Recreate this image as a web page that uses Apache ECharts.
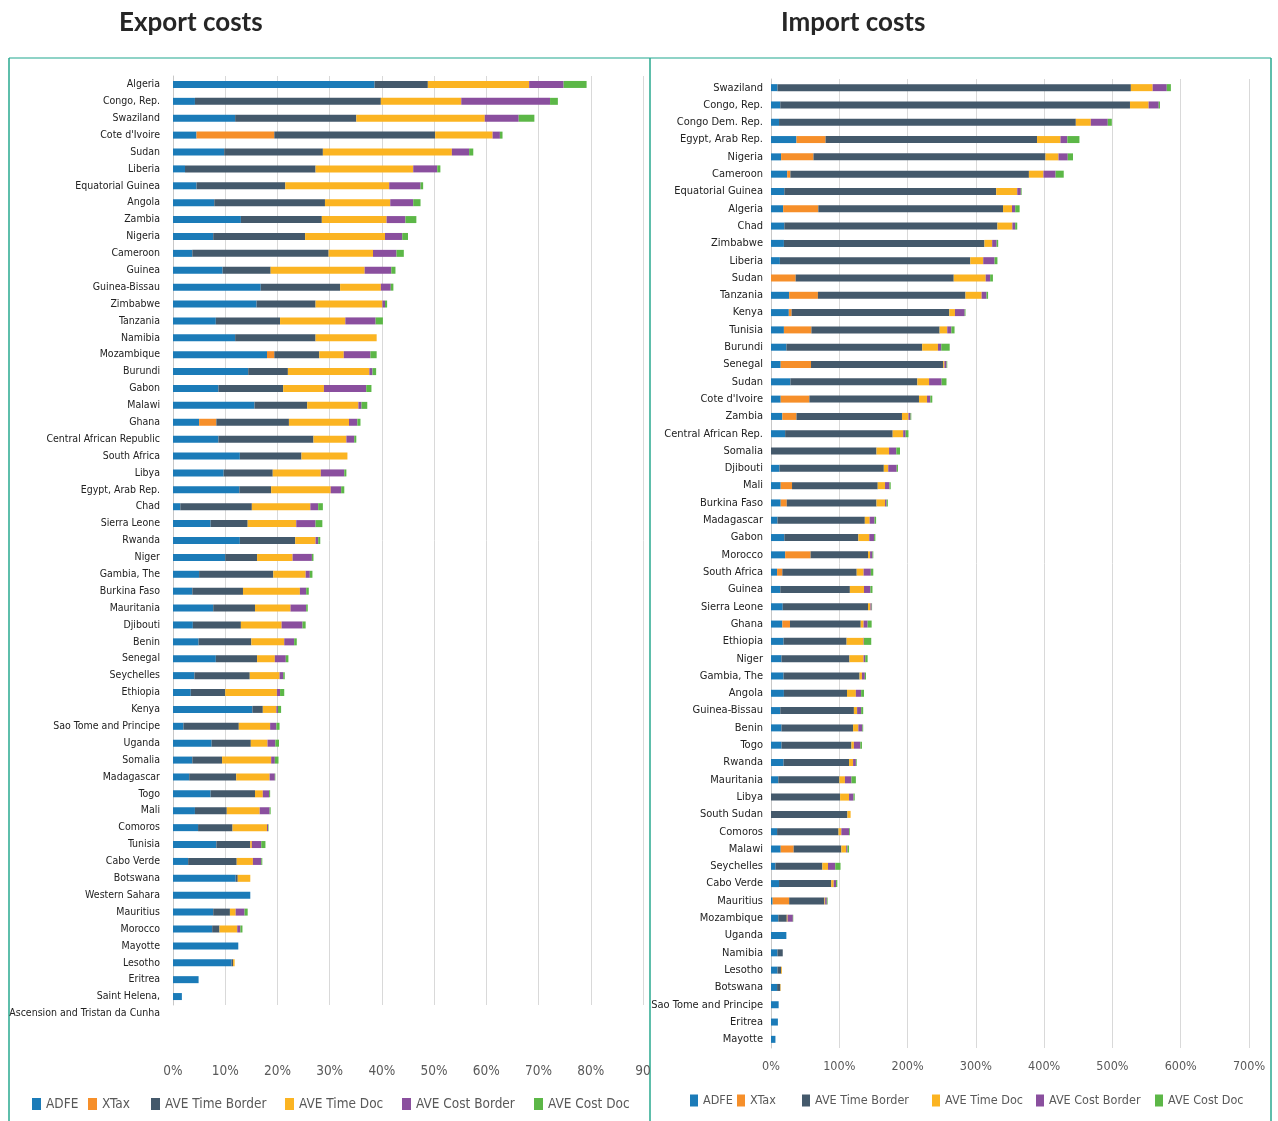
<!DOCTYPE html>
<html>
<head>
<meta charset="utf-8">
<script src="https://cdn.jsdelivr.net/npm/echarts@6/dist/echarts.min.js"></script>
<style>
html,body{margin:0;padding:0;background:#fff;}
#chart{width:1278px;height:1121px;}
</style>
</head>
<body>
<div id="chart"></div>
<script>
// ---------- DATA ----------
const seriesNames = ['ADFE', 'XTax', 'AVE Time Border', 'AVE Time Doc', 'AVE Cost Border', 'AVE Cost Doc'];

const exportCountries = ['Algeria','Congo, Rep.','Swaziland',"Cote d'Ivoire",'Sudan','Liberia','Equatorial Guinea','Angola','Zambia','Nigeria','Cameroon',
  'Guinea','Guinea-Bissau','Zimbabwe','Tanzania','Namibia','Mozambique','Burundi','Gabon','Malawi','Ghana','Central African Republic',
  'South Africa','Libya','Egypt, Arab Rep.','Chad','Sierra Leone','Rwanda','Niger','Gambia, The','Burkina Faso','Mauritania','Djibouti','Benin',
  'Senegal','Seychelles','Ethiopia','Kenya','Sao Tome and Principe','Uganda','Somalia','Madagascar','Togo','Mali','Comoros',
  'Tunisia','Cabo Verde','Botswana','Western Sahara','Mauritius','Morocco','Mayotte','Lesotho','Eritrea','Saint Helena,\nAscension and Tristan da Cunha'];

const exportADFE = [38.6,4.2,11.9,4.5,9.8,2.3,4.5,7.9,13.0,7.7,3.7,
  9.5,16.8,16.0,8.2,11.9,18.0,14.4,8.7,15.6,5.0,8.7,
  12.8,9.7,12.7,1.4,7.2,12.8,10.0,5.0,3.7,7.7,3.8,4.9,
  8.2,4.1,3.4,15.2,2.0,7.4,3.7,3.1,7.2,4.2,4.8,
  8.3,2.9,12.0,14.8,7.7,7.5,12.5,11.2,4.9,1.7];
const exportXTax = [0,0,0,14.9,0,0,0,0,0,0,0,
  0,0,0,0,0,1.4,0,0,0,3.3,0,
  0,0,0,0,0,0,0,0,0,0,0,0,
  0,0,0,0,0,0,0,0,0,0,0,
  0,0,0,0,0,0,0,0,0,0];
const exportTimeBorder = [10.2,35.6,23.2,30.8,18.9,25.0,17.0,21.2,15.5,17.6,26.1,
  9.2,15.2,11.3,12.3,15.4,8.6,7.6,12.4,10.1,13.9,18.2,
  11.8,9.4,6.1,13.7,7.1,10.6,6.1,14.2,9.7,8.0,9.2,10.1,
  7.9,10.6,6.6,2.0,10.6,7.5,5.7,9.0,8.5,6.1,6.6,
  6.5,9.3,0.4,0,3.2,1.4,0,0.3,0,0];
const exportTimeDoc = [19.4,15.4,24.6,11.0,24.7,18.7,19.9,12.5,12.4,15.3,8.5,
  18.0,7.8,12.8,12.5,11.7,4.7,15.6,7.8,9.8,11.5,6.3,
  8.8,9.2,11.4,11.2,9.3,3.9,6.8,6.2,10.9,6.8,7.8,6.3,
  3.4,5.7,9.9,2.6,6.0,3.2,9.4,6.4,1.5,6.3,6.6,
  0.3,3.1,2.4,0,1.1,3.4,0,0.3,0,0];
const exportCostBorder = [6.6,17.0,6.5,1.4,3.3,4.6,6.0,4.4,3.6,3.3,4.5,
  5.1,1.9,0.5,5.8,0,5.1,0.6,8.1,0.6,1.6,1.5,
  0,4.5,2.0,1.5,3.7,0.5,3.7,0.8,1.2,3.0,4.0,1.9,
  2.1,0.7,0.6,0.3,1.2,1.5,0.7,1.0,1.2,1.9,0.2,
  1.8,1.6,0,0,1.7,0.6,0,0,0,0];
const exportCostDoc = [4.4,1.5,3.0,0.5,0.8,0.6,0.5,1.4,2.1,1.1,1.4,
  0.8,0.5,0.4,1.4,0,1.2,0.7,1.0,1.1,0.6,0.4,
  0,0.4,0.6,0.9,1.3,0.4,0.3,0.5,0.5,0.3,0.6,0.5,
  0.5,0.3,0.8,0.6,0.6,0.7,0.7,0.1,0.2,0.2,0.1,
  0.8,0.2,0,0,0.6,0.4,0,0,0,0];

const importCountries = ['Swaziland','Congo, Rep.','Congo Dem. Rep.','Egypt, Arab Rep.','Nigeria','Cameroon','Equatorial Guinea','Algeria','Chad','Zimbabwe',
  'Liberia','Sudan','Tanzania','Kenya','Tunisia','Burundi','Senegal','Sudan',"Cote d'Ivoire",'Zambia','Central African Rep.',
  'Somalia','Djibouti','Mali','Burkina Faso','Madagascar','Gabon','Morocco','South Africa','Guinea','Sierra Leone','Ghana','Ethiopia',
  'Niger','Gambia, The','Angola','Guinea-Bissau','Benin','Togo','Rwanda','Mauritania','Libya','South Sudan','Comoros',
  'Malawi','Seychelles','Cabo Verde','Mauritius','Mozambique','Uganda','Namibia','Lesotho','Botswana','Sao Tome and Principe','Eritrea','Mayotte'];

const importADFE = [9.5,13.6,11.8,37.3,14.8,23.7,19.5,17.8,19.5,18.9,
  13.0,0,26.6,26.1,18.9,22.5,14.2,28.4,14.2,16.6,20.7,
  0,12.4,14.2,14.2,9.5,19.5,20.7,8.9,13.6,17.2,16.6,18.4,
  15.4,18.4,18.9,13.6,15.4,15.4,18.4,10.7,0,0,8.9,
  14.2,6.5,11.8,2.4,10.7,22.5,9.5,9.5,8.9,11.2,10.1,6.5];
const importXTax = [0,0,0,42.6,47.4,4.7,0,51.5,0,0,
  0,36.1,42.1,4.1,40.3,0,44.4,0,42.0,20.7,0,
  0,0,16.6,8.9,0,0,37.3,7.7,0,0,11.2,0,
  0,0,0,0,0,0,0,0,0,0,0,
  19.0,0,0,24.2,0,0,0,0,0,0,0,0];
const importTimeBorder = [517.5,512.1,434.6,309.7,339.8,349.3,310.3,270.5,312.1,293.7,
  278.9,231.5,216.1,230.9,187.7,198.9,193.6,185.9,160.5,154.5,157.5,
  154.5,152.8,125.5,131.4,127.9,108.4,84.1,108.9,101.9,124.9,103.6,92.3,
  99.5,111.3,92.4,107.8,104.8,102.4,95.9,89.4,101.2,111.9,90.0,
  69.8,68.7,76.4,51.6,12.4,0,7.7,5.3,4.7,0,0,0];
const importTimeDoc = [31.9,27.3,21.9,34.3,19.0,21.3,30.8,13.1,21.9,11.3,
  18.9,46.8,23.7,8.3,11.2,23.1,1.8,17.2,11.8,9.5,15.4,
  18.4,6.5,10.7,12.5,7.1,16.0,3.0,10.1,20.7,3.5,4.2,24.9,
  20.7,3.5,13.0,4.7,7.7,3.6,5.9,8.2,13.1,4.7,4.1,
  7.1,8.3,3.6,1.1,1.2,0,0,1.2,0.6,0,0,0];
const importCostBorder = [20.7,14.8,24.9,10.1,13.6,17.8,5.3,4.7,4.1,6.5,
  16.6,6.5,7.1,14.2,6.0,4.8,3.0,18.4,4.8,3.0,3.6,
  10.6,12.4,6.5,2.3,7.1,7.1,3.5,10.6,9.4,1.8,5.9,0.6,
  2.4,4.2,7.7,5.9,5.9,9.4,4.1,9.5,6.5,0,11.3,
  1.8,10.6,3.5,2.4,7.7,0,0,0,0,0,0,0];
const importCostDoc = [6.0,1.8,5.9,17.7,7.7,11.9,1.1,6.5,3.0,2.3,
  4.2,4.1,2.3,1.2,4.7,12.4,1.1,7.1,2.9,1.1,4.1,
  5.4,1.8,1.8,1.8,2.3,1.8,1.2,3.6,3.0,0.6,5.9,10.6,
  3.5,1.7,4.2,3.0,1.2,2.4,1.2,6.5,1.8,0,1.2,
  2.4,7.7,1.8,1.2,0.6,0,0,0,0,0,0,0];

const exportTickLabels = ['0%','10%','20%','30%','40%','50%','60%','70%','80%','90'];
const importTickLabels = ['0%','100%','200%','300%','400%','500%','600%','700%'];

// ---------- STYLE ----------
const colors = ['#1b7bb8', '#f68f2a', '#44596b', '#fbb422', '#8a4f9e', '#5cb747'];
const narrow = "'Liberation Sans Narrow', 'DejaVu Sans Condensed', 'Roboto', sans-serif";

const exportSeriesData = [exportADFE, exportXTax, exportTimeBorder, exportTimeDoc, exportCostBorder, exportCostDoc];
const importSeriesData = [importADFE, importXTax, importTimeBorder, importTimeDoc, importCostBorder, importCostDoc];

const series = [];
seriesNames.forEach((n, i) => {
  series.push({
    name: n, type: 'bar', stack: 'export', xAxisIndex: 0, yAxisIndex: 0,
    barWidth: 7, data: exportSeriesData[i], itemStyle: { color: colors[i] }
  });
});
seriesNames.forEach((n, i) => {
  series.push({
    name: n, type: 'bar', stack: 'import', xAxisIndex: 1, yAxisIndex: 1,
    barWidth: 7, data: importSeriesData[i], itemStyle: { color: colors[i] }
  });
});

// legend positions (one legend per item so spacing matches)
const leftLegendX = [32, 88, 151, 285, 402, 534];
const rightLegendX = [690, 737, 802, 932, 1036, 1155];
const legends = [];
seriesNames.forEach((n, i) => {
  legends.push({
    data: [n], left: leftLegendX[i], top: 1097, icon: 'rect', itemWidth: 9, itemHeight: 12,
    selectedMode: false, padding: 0,
    textStyle: { fontFamily: narrow, fontSize: 13.5, color: '#595959' }
  });
  legends.push({
    data: [n], left: rightLegendX[i], top: 1094, icon: 'rect', itemWidth: 8, itemHeight: 12,
    selectedMode: false, padding: 0,
    textStyle: { fontFamily: narrow, fontSize: 12.5, color: '#595959' }
  });
});

const chart = echarts.init(document.getElementById('chart'), null, { renderer: 'canvas' });
chart.setOption({
  animation: false,
  backgroundColor: '#ffffff',
  title: [
    { text: 'Export costs', left: 114, top: 5, textStyle: { fontFamily: 'Lato, "Open Sans", sans-serif', fontWeight: 'bold', fontSize: 26, color: '#262626' } },
    { text: 'Import costs', left: 776, top: 5, textStyle: { fontFamily: 'Lato, "Open Sans", sans-serif', fontWeight: 'bold', fontSize: 26, color: '#262626' } }
  ],
  legend: legends,
  grid: [
    { left: 173, top: 76, width: 470, height: 929, containLabel: false, outerBoundsMode: 'none' },
    { left: 771, top: 79, width: 478, height: 969, containLabel: false, outerBoundsMode: 'none' }
  ],
  xAxis: [
    {
      type: 'value', gridIndex: 0, min: 0, max: 90, interval: 10,
      axisLine: { show: false }, axisTick: { show: false },
      splitLine: { show: true, lineStyle: { color: '#d9d9d9', width: 1 } },
      axisLabel: {
        margin: 59, fontFamily: narrow, fontSize: 13.5, color: '#595959',
        formatter: v => exportTickLabels[Math.round(v / 10)]
      }
    },
    {
      type: 'value', gridIndex: 1, min: 0, max: 700, interval: 100,
      axisLine: { show: false }, axisTick: { show: false },
      splitLine: { show: true, lineStyle: { color: '#d9d9d9', width: 1 } },
      axisLabel: {
        margin: 12, fontFamily: narrow, fontSize: 12.5, color: '#595959',
        formatter: v => importTickLabels[Math.round(v / 100)]
      }
    }
  ],
  yAxis: [
    {
      type: 'category', gridIndex: 0, inverse: true, data: exportCountries,
      axisLine: { show: true, lineStyle: { color: '#c8c8c8' } }, axisTick: { show: false },
      axisLabel: {
        interval: 0, margin: 13, fontFamily: narrow, fontSize: 10.5, color: '#222', lineHeight: 17,
        formatter: v => (v.indexOf('\n') >= 0 ? '\n' + v : v)
      }
    },
    {
      type: 'category', gridIndex: 1, inverse: true, data: importCountries,
      axisLine: { show: true, lineStyle: { color: '#c8c8c8' } }, axisTick: { show: false },
      axisLabel: { interval: 0, margin: 8, fontFamily: narrow, fontSize: 11, color: '#222' }
    }
  ],
  graphic: [
    { type: 'line', shape: { x1: 9, y1: 58, x2: 650, y2: 58 }, style: { stroke: '#8fd3c7', lineWidth: 2 } },
    { type: 'line', shape: { x1: 650, y1: 58, x2: 1271, y2: 58 }, style: { stroke: '#8fd3c7', lineWidth: 2 } },
    { type: 'line', shape: { x1: 9, y1: 58, x2: 9, y2: 1121 }, style: { stroke: '#29a88f', lineWidth: 1.5 } },
    { type: 'line', shape: { x1: 650, y1: 58, x2: 650, y2: 1121 }, style: { stroke: '#29a88f', lineWidth: 1.5 } },
    { type: 'line', shape: { x1: 1271, y1: 58, x2: 1271, y2: 1121 }, style: { stroke: '#29a88f', lineWidth: 1.5 } }
  ],
  series: series
});
</script>
</body>
</html>
